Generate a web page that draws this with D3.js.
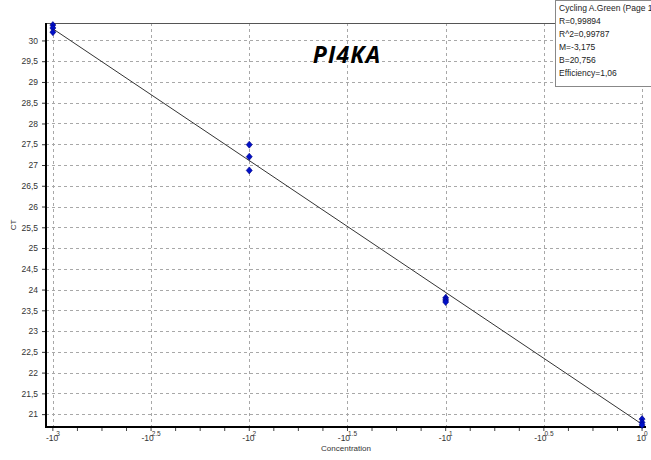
<!DOCTYPE html>
<html>
<head>
<meta charset="utf-8">
<script src="https://cdn.jsdelivr.net/npm/d3@7"></script>
<style>
body{margin:0;background:#fff;}
svg{display:block;}
</style>
</head>
<body>
<svg id="c" width="651" height="460"></svg>
<script>
// ---- data ----
const logConc = [-3, -3, -3, -2, -2, -2, -1, -1, -1, 0, 0, 0];
const ct = [30.37, 30.3, 30.2, 27.49, 27.2, 26.87, 23.8, 23.75, 23.7, 20.88, 20.8, 20.74];
const xTicks = [-3, -2.5, -2, -1.5, -1, -0.5, 0];
const xTickBase = ["-10", "-10", "-10", "-10", "-10", "-10", "10"];
const xTickExp = ["3", "2.5", "2", "1.5", "1", "0.5", "0"];
const yTicks = [21, 21.5, 22, 22.5, 23, 23.5, 24, 24.5, 25, 25.5, 26, 26.5, 27, 27.5, 28, 28.5, 29, 29.5, 30];
const slope = -3.175, intercept = 20.756;
const legendLines = ["Cycling A.Green (Page 1", "R=0,99894", "R^2=0,99787", "M=-3,175", "B=20,756", "Efficiency=1,06"];
const title = "PI4KA";

const svg = d3.select("#c");
const L = 46, R = 646, T = 23, B = 427;
const x = d3.scaleLinear().domain([-3.035, 0.02]).range([L, R]);
const y = d3.scaleLinear().domain([20.69, 30.42]).range([B, T]);
const font = "'Liberation Sans', Arial, sans-serif";

// gridlines
const g = svg.append("g");
g.selectAll("line.hg").data(yTicks).join("line")
  .attr("x1", L).attr("x2", R)
  .attr("y1", d => Math.round(y(d)) + 0.5).attr("y2", d => Math.round(y(d)) + 0.5)
  .attr("stroke", "#a8a8a8").attr("stroke-dasharray", "3,3");
g.selectAll("line.vg").data(xTicks).join("line")
  .attr("x1", d => Math.round(x(d)) + 0.5).attr("x2", d => Math.round(x(d)) + 0.5)
  .attr("y1", T).attr("y2", B)
  .attr("stroke", "#a8a8a8").attr("stroke-dasharray", "3,3");

// top frame
svg.append("line").attr("x1", L).attr("x2", 651).attr("y1", T + 0.5).attr("y2", T + 0.5)
  .attr("stroke", "#555");

// y axis
const yAxis = d3.axisLeft(y).tickValues(yTicks).tickSize(4)
  .tickFormat(d => String(d).replace(".", ","));
const ya = svg.append("g").attr("transform", `translate(${L},0)`).call(yAxis);
ya.select(".domain").remove();
ya.selectAll("text").attr("font-family", font).attr("font-size", 8.5).attr("fill", "#333").attr("dx", -1);
ya.selectAll(".tick line").attr("stroke", "#333");

// x axis
const minor = d3.range(-3, 0.001, 0.125);
const xa = svg.append("g").attr("transform", `translate(0,${B})`);
xa.selectAll("line.mt").data(minor).join("line")
  .attr("x1", d => x(d)).attr("x2", d => x(d)).attr("y1", 0).attr("y2", 4)
  .attr("stroke", "#444");
const lab = xa.selectAll("text.xl").data(xTicks).join("text")
  .attr("x", d => x(d)).attr("y", 14)
  .attr("text-anchor", "middle")
  .attr("font-family", font).attr("font-size", 8.5).attr("fill", "#333");
lab.append("tspan").text((d, i) => xTickBase[i]);
lab.append("tspan").attr("dx", -2).attr("dy", -5).attr("font-size", 6.5).text((d, i) => xTickExp[i]);

// axis lines
svg.append("line").attr("x1", L).attr("x2", L).attr("y1", T).attr("y2", B + 1)
  .attr("stroke", "#000").attr("stroke-width", 2);
svg.append("line").attr("x1", L - 1).attr("x2", R).attr("y1", B).attr("y2", B)
  .attr("stroke", "#000").attr("stroke-width", 2);

// regression line
svg.append("line")
  .attr("x1", x(-3)).attr("y1", y(slope * -3 + intercept))
  .attr("x2", x(0)).attr("y2", y(intercept))
  .attr("stroke", "#333").attr("stroke-width", 1);

// points (small diamonds)
const dia = "M0,-3.5L3,0L0,3.5L-3,0Z";
svg.selectAll("path.pt").data(logConc).join("path")
  .attr("transform", (d, i) => `translate(${x(d)},${y(ct[i])})`)
  .attr("d", dia)
  .attr("fill", "#0010c8").attr("stroke", "#000080").attr("stroke-width", 0.6);

// axis titles
svg.append("text").attr("x", (L + R) / 2).attr("y", 451).attr("text-anchor", "middle")
  .attr("font-family", font).attr("font-size", 8).attr("fill", "#333").text("Concentration");
svg.append("text").attr("transform", `translate(16,${(T + B) / 2}) rotate(-90)`)
  .attr("text-anchor", "middle")
  .attr("font-family", font).attr("font-size", 8).attr("fill", "#333").text("CT");

// title
svg.append("text").attr("x", 347).attr("y", 63).attr("text-anchor", "middle")
  .attr("font-family", "'Open Sans', sans-serif").attr("font-weight", "bold").attr("font-style", "italic")
  .attr("font-size", 23).attr("letter-spacing", 1.2).attr("fill", "#000").text(title);

// legend
const lg = svg.append("g");
lg.append("rect").attr("x", 555.5).attr("y", 0.5).attr("width", 100).attr("height", 86)
  .attr("fill", "#fff").attr("stroke", "#888");
lg.selectAll("text").data(legendLines).join("text")
  .attr("x", 559).attr("y", (d, i) => 11 + i * 13)
  .attr("font-family", font).attr("font-size", 8.5).attr("fill", "#222").text(d => d);
</script>
</body>
</html>
